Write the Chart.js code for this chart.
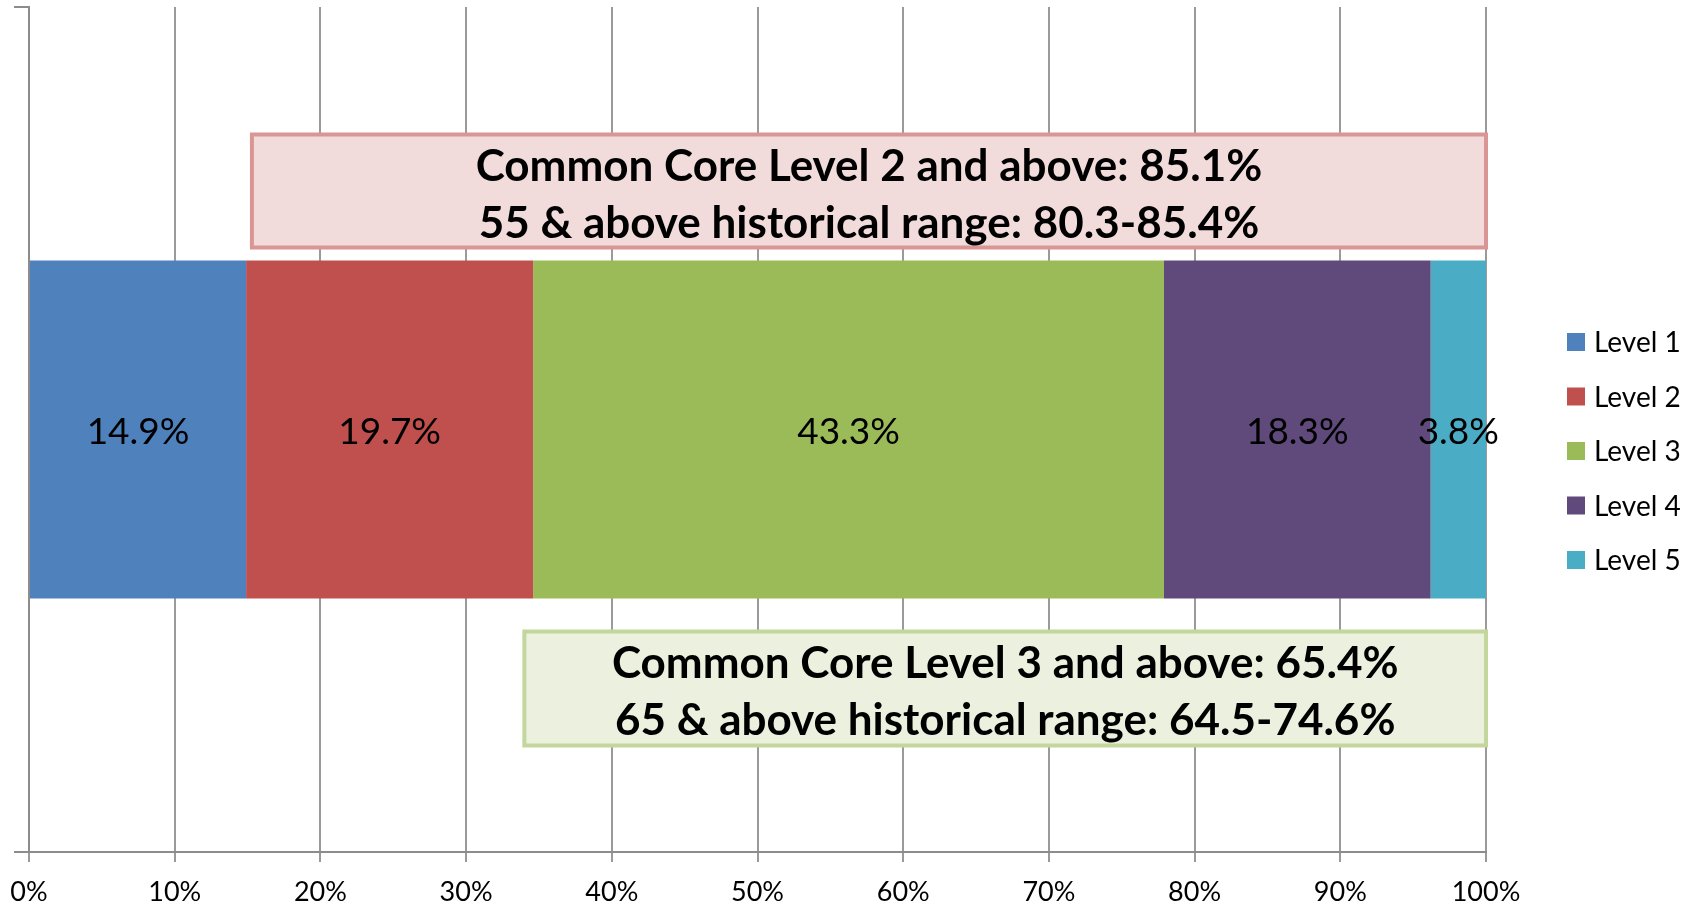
<!DOCTYPE html>
<html>
<head>
<meta charset="utf-8">
<script src="https://cdn.jsdelivr.net/npm/chart.js@4.4.1/dist/chart.umd.min.js"></script>
<style>
  html, body { margin: 0; padding: 0; background: #fff; }
  #wrap { width: 1696px; height: 907px; }
</style>
</head>
<body>
<div id="wrap"><canvas id="chart" width="1696" height="907"></canvas></div>
<script>
const categories = [''];
const levelNames = ['Level 1', 'Level 2', 'Level 3', 'Level 4', 'Level 5'];
const levelValues = [14.9, 19.7, 43.3, 18.3, 3.8];
const levelColors = ['#4f81bd', '#c0504d', '#9bbb59', '#604a7b', '#4bacc6'];
const tickValues = [0, 10, 20, 30, 40, 50, 60, 70, 80, 90, 100];

const boxTopLines = ['Common Core Level 2 and above: 85.1%', '55 & above historical range: 80.3-85.4%'];
const boxBottomLines = ['Common Core Level 3 and above: 65.4%', '65 & above historical range: 64.5-74.6%'];

const FONT = 'Lato, "Open Sans", sans-serif';

// value labels centred in each segment
const segmentLabels = {
  id: 'segmentLabels',
  afterDatasetsDraw(chart) {
    const ctx = chart.ctx;
    ctx.save();
    ctx.font = '37px ' + FONT;
    ctx.fillStyle = '#000';
    ctx.textAlign = 'center';
    ctx.textBaseline = 'middle';
    chart.data.datasets.forEach((ds, i) => {
      const el = chart.getDatasetMeta(i).data[0];
      ctx.fillText(ds.data[0].toFixed(1) + '%', (el.x + el.base) / 2, el.y + 3);
    });
    ctx.restore();
  }
};

// the two callout boxes
const callouts = {
  id: 'callouts',
  afterDraw(chart) {
    const ctx = chart.ctx;
    const x = chart.scales.x;
    const bar = chart.getDatasetMeta(0).data[0];
    const barTop = bar.y - bar.height / 2;
    const barBottom = bar.y + bar.height / 2;
    const drawBox = (fromVal, top, h, fill, stroke, lines) => {
      const left = x.getPixelForValue(fromVal);
      const right = x.getPixelForValue(100);
      ctx.save();
      ctx.fillStyle = fill;
      ctx.strokeStyle = stroke;
      ctx.lineWidth = 4;
      ctx.fillRect(left, top, right - left, h);
      ctx.strokeRect(left, top, right - left, h);
      ctx.fillStyle = '#000';
      ctx.font = 'bold 44px ' + FONT;
      ctx.textAlign = 'center';
      ctx.textBaseline = 'alphabetic';
      const cx = (left + right) / 2;
      ctx.fillText(lines[0], cx, top + 46);
      ctx.fillText(lines[1], cx, top + 103);
      ctx.restore();
    };
    drawBox(15.3, barTop - 126, 113, '#f2dcdb', '#d99694', boxTopLines);
    drawBox(34.0, barBottom + 33, 114, '#ebf1de', '#c3d69b', boxBottomLines);
  }
};

// legend on the right
const sideLegend = {
  id: 'sideLegend',
  afterDraw(chart) {
    const ctx = chart.ctx;
    ctx.save();
    ctx.font = '28px ' + FONT;
    ctx.textBaseline = 'middle';
    ctx.textAlign = 'left';
    chart.data.datasets.forEach((ds, i) => {
      const cy = 342 + i * 54.5;
      ctx.fillStyle = ds.backgroundColor;
      ctx.fillRect(1567, cy - 9, 18, 18);
      ctx.fillStyle = '#000';
      ctx.fillText(ds.label, 1594, cy + 1);
    });
    ctx.restore();
  }
};

new Chart(document.getElementById('chart'), {
  type: 'bar',
  data: {
    labels: categories,
    datasets: levelNames.map((name, i) => ({
      label: name,
      data: [levelValues[i]],
      backgroundColor: levelColors[i],
      borderWidth: 0,
      barPercentage: 1,
      categoryPercentage: 0.4
    }))
  },
  options: {
    indexAxis: 'y',
    responsive: false,
    animation: false,
    layout: { padding: { left: 0, right: 210, top: 7, bottom: 0 } },
    plugins: {
      legend: { display: false },
      tooltip: { enabled: false }
    },
    scales: {
      x: {
        stacked: true,
        min: 0,
        max: 100,
        afterBuildTicks: (scale) => { scale.ticks = tickValues.map(v => ({ value: v })); },
        afterFit: (scale) => {
          scale.height = 55;
          scale.paddingLeft = 0;
          scale.paddingRight = 0;
        },
        ticks: {
          callback: (v) => v + '%',
          color: '#000',
          font: { family: FONT, size: 27 },
          padding: 14,
          maxRotation: 0
        },
        grid: { color: '#9a9a9a', lineWidth: 2, tickLength: 10 },
        border: { color: '#8c8c8c', width: 2 }
      },
      y: {
        stacked: true,
        afterFit: (scale) => { scale.width = 29; },
        ticks: { display: false },
        grid: { drawOnChartArea: false, tickLength: 15, color: '#8c8c8c', lineWidth: 2 },
        border: { color: '#8c8c8c', width: 2 }
      }
    }
  },
  plugins: [segmentLabels, callouts, sideLegend]
});
</script>
</body>
</html>
